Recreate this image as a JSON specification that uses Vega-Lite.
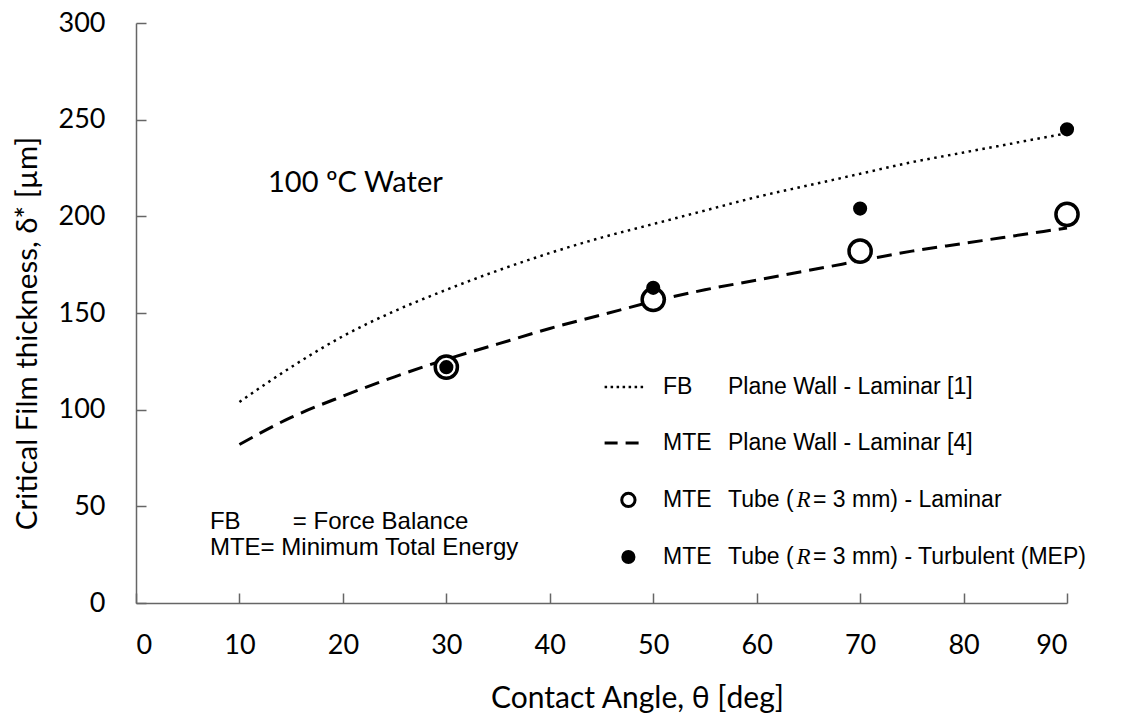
{
  "$schema": "https://vega.github.io/schema/vega-lite/v6.json",
  "width": 931,
  "height": 580,
  "autosize": {"type": "none"},
  "padding": {"left": 136, "top": 23, "right": 54, "bottom": 111},
  "background": "white",
  "config": {
    "view": {"stroke": null},
    "axis": {
      "grid": false,
      "domainColor": "#666666",
      "domainWidth": 1.5,
      "tickColor": "#666666",
      "tickWidth": 1.5,
      "tickSize": -10,
      "labelFont": "Lato",
      "labelFontSize": 27,
      "labelColor": "#000000",
      "titleFont": "Lato",
      "titleFontSize": 30,
      "titleFontWeight": "normal",
      "titleColor": "#000000"
    }
  },
  "datasets": {
    "fb": [
      {"theta": 10, "delta": 104}, {"theta": 15, "delta": 122}, {"theta": 20, "delta": 138},
      {"theta": 25, "delta": 151}, {"theta": 30, "delta": 162}, {"theta": 35, "delta": 172},
      {"theta": 40, "delta": 181}, {"theta": 45, "delta": 189}, {"theta": 50, "delta": 196},
      {"theta": 55, "delta": 203}, {"theta": 60, "delta": 210}, {"theta": 65, "delta": 216},
      {"theta": 70, "delta": 222}, {"theta": 75, "delta": 228}, {"theta": 80, "delta": 233},
      {"theta": 85, "delta": 238}, {"theta": 90, "delta": 243}
    ],
    "mte": [
      {"theta": 10, "delta": 82}, {"theta": 15, "delta": 96}, {"theta": 20, "delta": 107},
      {"theta": 25, "delta": 117}, {"theta": 30, "delta": 126}, {"theta": 35, "delta": 134},
      {"theta": 40, "delta": 142}, {"theta": 45, "delta": 149}, {"theta": 50, "delta": 156},
      {"theta": 55, "delta": 162}, {"theta": 60, "delta": 167}, {"theta": 65, "delta": 172},
      {"theta": 70, "delta": 177}, {"theta": 75, "delta": 182}, {"theta": 80, "delta": 186},
      {"theta": 85, "delta": 190}, {"theta": 90, "delta": 194}
    ],
    "lam": [
      {"theta": 30, "delta": 122}, {"theta": 50, "delta": 157},
      {"theta": 70, "delta": 182}, {"theta": 90, "delta": 201}
    ],
    "turb": [
      {"theta": 30, "delta": 122}, {"theta": 50, "delta": 163},
      {"theta": 70, "delta": 204}, {"theta": 90, "delta": 245}
    ],
    "legFB": [{"theta": 45.3, "delta": 111.7}, {"theta": 49.2, "delta": 111.7}],
    "legMTE": [{"theta": 45.3, "delta": 82.8}, {"theta": 49.2, "delta": 82.8}],
    "legLam": [{"theta": 47.6, "delta": 53.3}],
    "legTurb": [{"theta": 47.6, "delta": 23.8}],
    "legend": [
      {"theta": 50.95, "delta": 111.7, "label": "FB"},
      {"theta": 57.23, "delta": 111.7, "label": "Plane Wall - Laminar [1]"},
      {"theta": 50.95, "delta": 82.8, "label": "MTE"},
      {"theta": 57.23, "delta": 82.8, "label": "Plane Wall - Laminar [4]"},
      {"theta": 50.95, "delta": 53.3, "label": "MTE"},
      {"theta": 57.23, "delta": 53.3, "label": "Tube ("},
      {"theta": 65.45, "delta": 53.3, "label": "= 3 mm) - Laminar"},
      {"theta": 50.95, "delta": 23.8, "label": "MTE"},
      {"theta": 57.23, "delta": 23.8, "label": "Tube ("},
      {"theta": 65.45, "delta": 23.8, "label": "= 3 mm) - Turbulent (MEP)"}
    ],
    "defs": [
      {"theta": 7.15, "delta": 41.9, "label": "FB"},
      {"theta": 15.165, "delta": 41.9, "label": "= Force Balance"},
      {"theta": 7.15, "delta": 28.5, "label": "MTE= Minimum Total Energy"}
    ],
    "italic": [
      {"theta": 63.85, "delta": 53.3, "label": "R"},
      {"theta": 63.85, "delta": 23.8, "label": "R"}
    ],
    "water": [
      {"theta": 12.76, "delta": 217.4, "label": "100 ºC Water"}
    ]
  },
  "encoding": {
    "x": {
      "field": "theta", "type": "quantitative",
      "scale": {"domain": [0, 90], "nice": false},
      "axis": {
        "values": [0, 10, 20, 30, 40, 50, 60, 70, 80, 90],
        "labelPadding": 39,
        "title": "Contact Angle, θ [deg]",
        "titleX": 501, "titleY": 95, "titleBaseline": "middle", "titleAnchor": null
      }
    },
    "y": {
      "field": "delta", "type": "quantitative",
      "scale": {"domain": [0, 300], "nice": false},
      "axis": {
        "values": [0, 50, 100, 150, 200, 250, 300],
        "labelPadding": 41,
        "title": "Critical Film thickness, δ* [µm]",
        "titleFontSize": 29.5,
        "titleX": -109, "titleY": 310, "titleBaseline": "middle", "titleAlign": "center", "titleAngle": -90
      }
    }
  },
  "layer": [
    {"data": {"name": "fb"}, "mark": {"type": "line", "color": "#000000", "strokeWidth": 2.5, "strokeDash": [2.5, 4.5], "interpolate": "monotone"}},
    {"data": {"name": "mte"}, "mark": {"type": "line", "color": "#000000", "strokeWidth": 3, "strokeDash": [15, 8], "interpolate": "monotone"}},
    {"data": {"name": "lam"}, "mark": {"type": "point", "shape": "circle", "filled": false, "fill": "white", "fillOpacity": 1, "stroke": "#000000", "strokeWidth": 3.5, "size": 490, "opacity": 1}},
    {"data": {"name": "turb"}, "mark": {"type": "point", "shape": "circle", "filled": true, "color": "#000000", "size": 200, "opacity": 1}},
    {"data": {"name": "legFB"}, "mark": {"type": "line", "color": "#000000", "strokeWidth": 2.5, "strokeDash": [2.5, 3.5]}},
    {"data": {"name": "legMTE"}, "mark": {"type": "line", "color": "#000000", "strokeWidth": 3, "strokeDash": [13, 8]}},
    {"data": {"name": "legLam"}, "mark": {"type": "point", "shape": "circle", "filled": false, "stroke": "#000000", "strokeWidth": 3, "size": 177, "opacity": 1}},
    {"data": {"name": "legTurb"}, "mark": {"type": "point", "shape": "circle", "filled": true, "color": "#000000", "size": 200, "opacity": 1}},
    {"data": {"name": "legend"}, "mark": {"type": "text", "align": "left", "baseline": "middle", "font": "Liberation Sans", "fontSize": 23, "color": "#000000"}, "encoding": {"text": {"field": "label"}}},
    {"data": {"name": "defs"}, "mark": {"type": "text", "align": "left", "baseline": "middle", "font": "Liberation Sans", "fontSize": 24, "color": "#000000"}, "encoding": {"text": {"field": "label"}}},
    {"data": {"name": "italic"}, "mark": {"type": "text", "align": "left", "baseline": "middle", "font": "Liberation Serif", "fontStyle": "italic", "fontSize": 23, "color": "#000000"}, "encoding": {"text": {"field": "label"}}},
    {"data": {"name": "water"}, "mark": {"type": "text", "align": "left", "baseline": "middle", "font": "Lato", "fontSize": 29, "color": "#000000"}, "encoding": {"text": {"field": "label"}}}
  ]
}
